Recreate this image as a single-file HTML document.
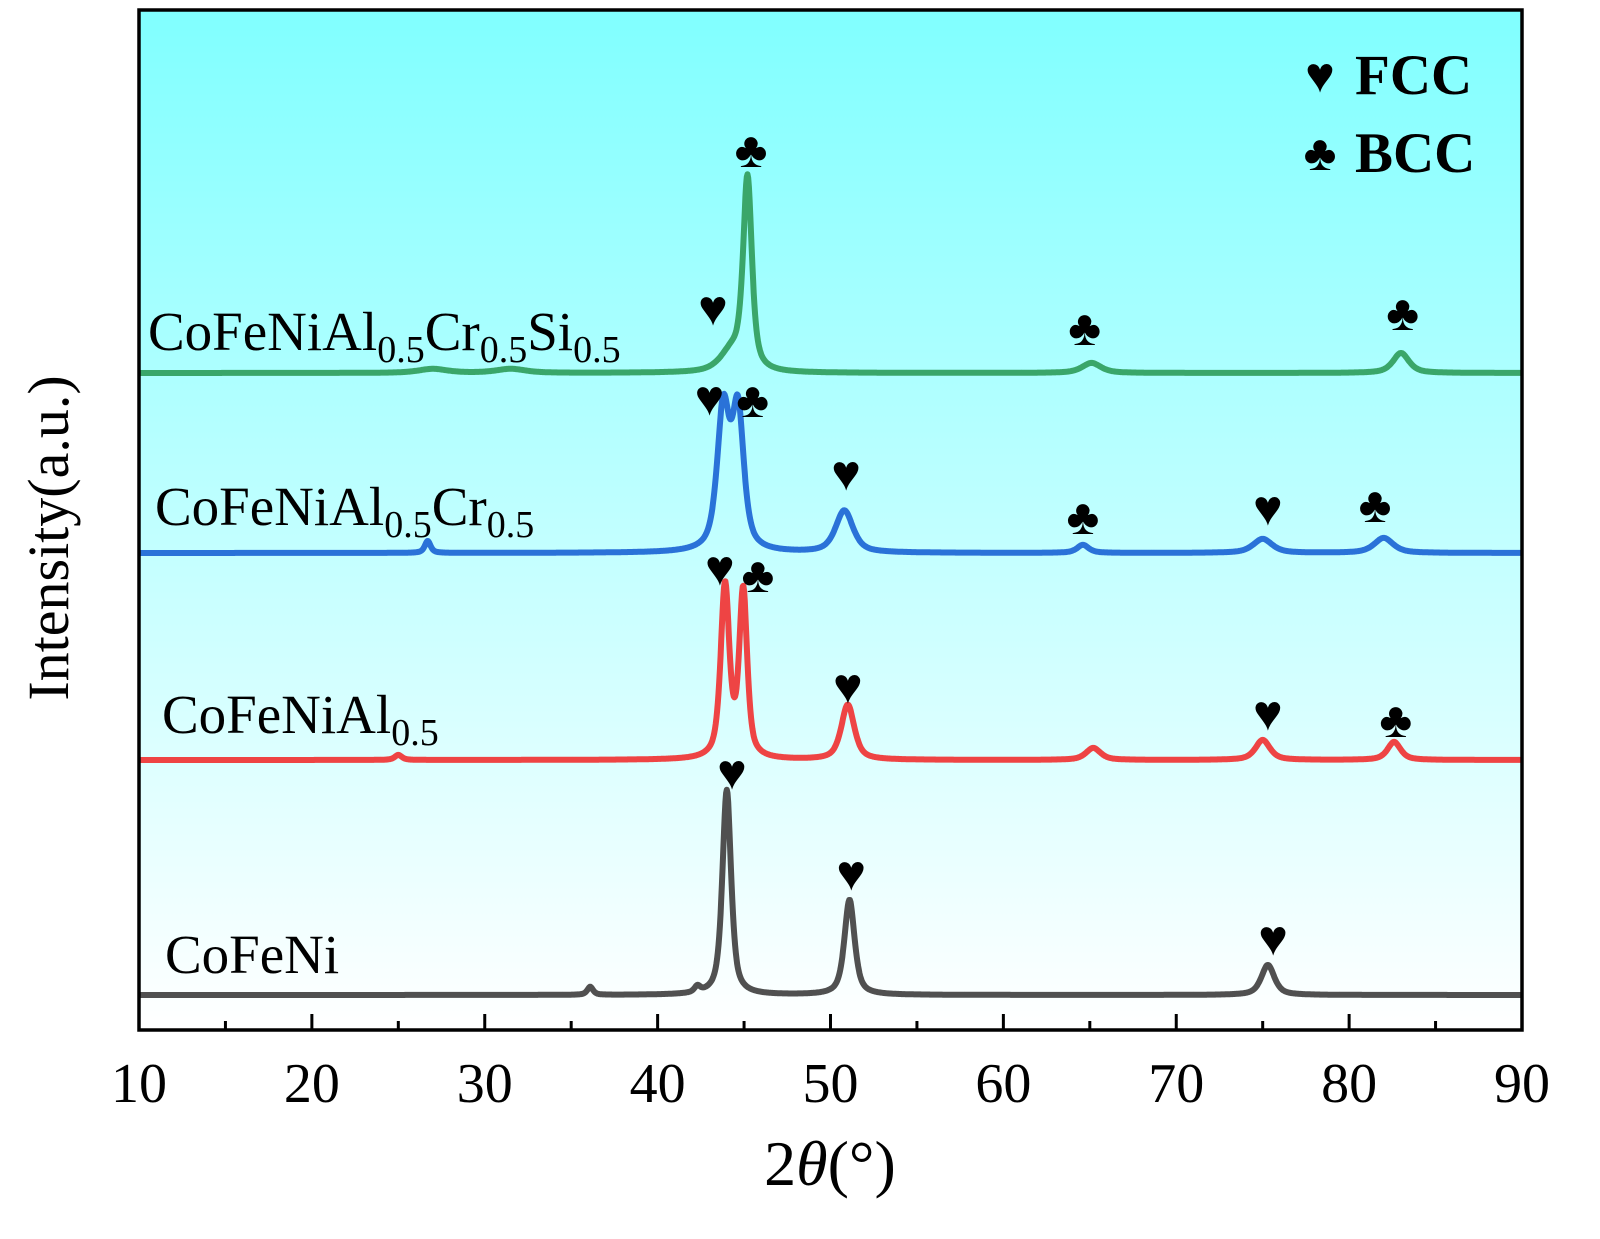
<!DOCTYPE html>
<html><head><meta charset="utf-8"><style>
body{margin:0;background:#fff}
svg{display:block;font-family:"Liberation Serif",serif}
</style></head><body>
<svg id="chart" width="1600" height="1239" viewBox="0 0 1600 1239" xmlns="http://www.w3.org/2000/svg">
<defs><linearGradient id="bg" x1="0" y1="0" x2="0" y2="1"><stop offset="0" stop-color="#80ffff"/><stop offset="1" stop-color="#ffffff"/></linearGradient></defs>
<rect x="139" y="10" width="1383" height="1020" fill="url(#bg)"/>
<g id="curves"></g>
<g id="axes"></g>
<g font-size="55" fill="#000">
<text x="148" y="350">CoFeNiAl<tspan font-size="38" dy="12">0.5</tspan><tspan dy="-12">Cr</tspan><tspan font-size="38" dy="12">0.5</tspan><tspan dy="-12">Si</tspan><tspan font-size="38" dy="12">0.5</tspan></text>
<text x="155" y="525">CoFeNiAl<tspan font-size="38" dy="12">0.5</tspan><tspan dy="-12">Cr</tspan><tspan font-size="38" dy="12">0.5</tspan></text>
<text x="162" y="733">CoFeNiAl<tspan font-size="38" dy="12">0.5</tspan></text>
<text x="165" y="973">CoFeNi</text>
</g>
<g id="marks" font-size="50" text-anchor="middle" fill="#000"></g>
<g font-size="57" font-weight="bold">
<text x="1320" y="92" text-anchor="middle" font-size="50">♥</text>
<text x="1355" y="94">FCC</text>
<text x="1320" y="170" text-anchor="middle" font-size="50">♣</text>
<text x="1355" y="172">BCC</text>
</g>
<text x="830" y="1185" font-size="64" text-anchor="middle">2<tspan font-style="italic">θ</tspan>(°)</text>
<text transform="translate(68,538) rotate(-90)" font-size="58" text-anchor="middle">Intensity(a.u.)</text>
</svg>
<script>
const xTicks=[10,20,30,40,50,60,70,80,90];
const seriesNames=["CoFeNi","CoFeNiAl0.5","CoFeNiAl0.5Cr0.5","CoFeNiAl0.5Cr0.5Si0.5"];
const seriesColors=["#505050","#ee4444","#2a72d8","#3aa66a"];
const baselines=[0,235,442,622];
const grayPeaks=[[44.0,205,0.6],[51.1,95,0.7],[75.3,30,0.9],[36.1,8,0.4],[42.3,6,0.4]];
const redPeaks=[[43.9,172,0.6],[44.95,166,0.55],[51.0,55,0.9],[65.2,12,1.0],[75.0,20,1.0],[82.6,18,0.9],[25,5,0.5]];
const bluePeaks=[[43.8,140,0.85],[44.65,136,0.8],[50.8,42,1.2],[26.7,12,0.4],[64.6,8,0.8],[75.0,14,1.3],[82.0,15,1.3]];
const greenPeaks=[[45.2,190,0.6],[44.3,20,1.6],[65.1,10,1.3],[83.0,20,1.1],[27,4,2],[31.5,4,2]];
const allPeaks=[grayPeaks,redPeaks,bluePeaks,greenPeaks];
const fccMarks=[[44.3,772],[51.2,873],[75.6,938],[43.6,568],[51.0,686],[75.3,713],[43.0,398],[50.9,473],[75.3,508],[43.2,308]];
const bccMarks=[[45.8,575],[82.7,720],[45.5,400],[64.6,517],[81.5,505],[45.4,150],[64.7,328],[83.1,313]];
const x0=139,x1=1522,yTop=10,yBot=1030;
const xs=v=>x0+(v-10)/(80)*(x1-x0);
const intensityToY=(i,b)=>995-b-i;
const ns="http://www.w3.org/2000/svg";
const curves=document.getElementById('curves');
allPeaks.forEach((pk,si)=>{
 let d="";
 for(let t=10;t<=90.001;t+=0.04){
  let I=0;
  pk.forEach(([c,h,w])=>{const u=(t-c)/(w/2);I+=h*(0.65/(1+u*u)+0.35*Math.exp(-0.693*u*u));});
  d+=(d?"L":"M")+xs(t).toFixed(1)+","+intensityToY(I,baselines[si]).toFixed(1);
 }
 const p=document.createElementNS(ns,'path');
 p.setAttribute('d',d);p.setAttribute('fill','none');p.setAttribute('stroke',seriesColors[si]);p.setAttribute('stroke-width','6');p.setAttribute('stroke-linejoin','round');
 
 
 curves.appendChild(p);
});
const marks=document.getElementById('marks');
[[fccMarks,'♥'],[bccMarks,'♣']].forEach(([arr,s])=>arr.forEach(([v,y])=>{
 const t=document.createElementNS(ns,'text');
 t.setAttribute('x',xs(v));t.setAttribute('y',y+17);t.textContent=s;
 
 
 marks.appendChild(t);
}));
const axes=document.getElementById('axes');
const frame=document.createElementNS(ns,'rect');
frame.setAttribute('x',x0);frame.setAttribute('y',yTop);frame.setAttribute('width',x1-x0);frame.setAttribute('height',yBot-yTop);
frame.setAttribute('fill','none');frame.setAttribute('stroke','#000');frame.setAttribute('stroke-width','3.5');


axes.appendChild(frame);
for(let v=10;v<=90;v+=5){
 const major=v%10===0;
 const l=document.createElementNS(ns,'line');
 l.setAttribute('x1',xs(v));l.setAttribute('x2',xs(v));l.setAttribute('y1',yBot);l.setAttribute('y2',yBot-(major?16:9));
 l.setAttribute('stroke','#000');l.setAttribute('stroke-width','3');
 
 
 axes.appendChild(l);
}
xTicks.forEach(v=>{
 const t=document.createElementNS(ns,'text');
 t.setAttribute('x',xs(v));t.setAttribute('y',1102);t.setAttribute('font-size','56');t.setAttribute('text-anchor','middle');
 t.textContent=v;
 
 
 axes.appendChild(t);
});
</script>
</body></html>
